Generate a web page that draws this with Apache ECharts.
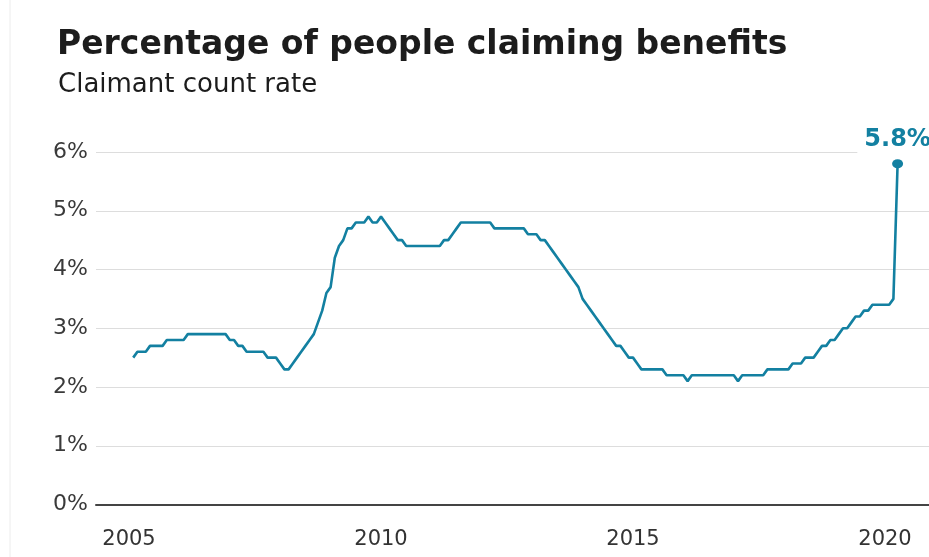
<!DOCTYPE html>
<html>
<head>
<meta charset="utf-8">
<script src="https://cdn.jsdelivr.net/npm/echarts@6/dist/echarts.min.js"></script>
<style>
  html, body { margin: 0; padding: 0; background: #fff; }
  #chart { width: 929px; height: 557px; }
</style>
</head>
<body>
<div id="chart"></div>
<script>
// ---- Data (monthly claimant count rate, %), first value = Feb 2005 ----
const titleText = 'Percentage of people claiming benefits';
const subtitleText = 'Claimant count rate';
const startYear = 2005;
const startMonth = 2; // February
const claimantRate = [
  // 2005 (Feb-Dec)
  2.5, 2.6, 2.6, 2.6, 2.7, 2.7, 2.7, 2.7, 2.8, 2.8, 2.8,
  // 2006
  2.8, 2.8, 2.9, 2.9, 2.9, 2.9, 2.9, 2.9, 2.9, 2.9, 2.9, 2.9,
  // 2007
  2.8, 2.8, 2.7, 2.7, 2.6, 2.6, 2.6, 2.6, 2.6, 2.5, 2.5, 2.5,
  // 2008
  2.4, 2.3, 2.3, 2.4, 2.5, 2.6, 2.7, 2.8, 2.9, 3.1, 3.3, 3.6,
  // 2009
  3.7, 4.2, 4.4, 4.5, 4.7, 4.7, 4.8, 4.8, 4.8, 4.9, 4.8, 4.8,
  // 2010
  4.9, 4.8, 4.7, 4.6, 4.5, 4.5, 4.4, 4.4, 4.4, 4.4, 4.4, 4.4,
  // 2011
  4.4, 4.4, 4.4, 4.5, 4.5, 4.6, 4.7, 4.8, 4.8, 4.8, 4.8, 4.8,
  // 2012
  4.8, 4.8, 4.8, 4.7, 4.7, 4.7, 4.7, 4.7, 4.7, 4.7, 4.7, 4.6,
  // 2013
  4.6, 4.6, 4.5, 4.5, 4.4, 4.3, 4.2, 4.1, 4.0, 3.9, 3.8, 3.7,
  // 2014
  3.5, 3.4, 3.3, 3.2, 3.1, 3.0, 2.9, 2.8, 2.7, 2.7, 2.6, 2.5,
  // 2015
  2.5, 2.4, 2.3, 2.3, 2.3, 2.3, 2.3, 2.3, 2.2, 2.2, 2.2, 2.2,
  // 2016
  2.2, 2.1, 2.2, 2.2, 2.2, 2.2, 2.2, 2.2, 2.2, 2.2, 2.2, 2.2,
  // 2017
  2.2, 2.1, 2.2, 2.2, 2.2, 2.2, 2.2, 2.2, 2.3, 2.3, 2.3, 2.3,
  // 2018
  2.3, 2.3, 2.4, 2.4, 2.4, 2.5, 2.5, 2.5, 2.6, 2.7, 2.7, 2.8,
  // 2019
  2.8, 2.9, 3.0, 3.0, 3.1, 3.2, 3.2, 3.3, 3.3, 3.4, 3.4, 3.4,
  // 2020 (Jan-Apr)
  3.4, 3.4, 3.5, 5.8
];
const yearTicks = [2005, 2010, 2015, 2020];
const percentTicks = [0, 1, 2, 3, 4, 5, 6];

// ---- Build (x = fractional year, y = rate) pairs ----
const seriesData = claimantRate.map((v, i) => {
  const m = startMonth - 1 + i;
  return [startYear + m / 12, v];
});
const lastPoint = seriesData[seriesData.length - 1];

const teal = '#1380A1';
const font = '"DejaVu Sans", "Liberation Sans", Arial, sans-serif';

const chart = echarts.init(document.getElementById('chart'), null, { renderer: 'canvas' });
chart.setOption({
  animation: false,
  backgroundColor: '#ffffff',
  title: [
    {
      text: titleText,
      left: 52, top: 24,
      textStyle: { fontFamily: font, fontSize: 33, fontWeight: 'bold', color: '#1c1c1c' }
    },
    {
      text: subtitleText,
      left: 53, top: 67,
      textStyle: { fontFamily: font, fontSize: 26, fontWeight: 'normal', color: '#1c1c1c' }
    }
  ],
  graphic: [
    { type: 'line', shape: { x1: 10, y1: 0, x2: 10, y2: 557 }, style: { stroke: '#ececec', lineWidth: 1 }, silent: true }
  ],
  grid: { left: 96, right: 0, top: 152, bottom: 52.5 },
  xAxis: {
    type: 'value',
    min: 2004.345,
    max: 2020.873,
    axisLine: { show: true, onZero: false, lineStyle: { color: '#444444', width: 2 } },
    axisTick: { show: false },
    splitLine: { show: false },
    axisLabel: {
      customValues: yearTicks,
      formatter: v => String(v),
      fontFamily: font, fontSize: 21, color: '#333333', margin: 25
    }
  },
  yAxis: {
    type: 'value',
    min: percentTicks[0],
    max: percentTicks[percentTicks.length - 1],
    interval: 1,
    axisLine: { show: false },
    axisTick: { show: false },
    splitLine: { show: true, lineStyle: { color: '#dddddd', width: 1.2 } },
    axisLabel: {
      formatter: '{value}%',
      fontFamily: font, fontSize: 22, color: '#3a3a3a', margin: 8
    }
  },
  series: [
    {
      type: 'line',
      data: seriesData,
      showSymbol: false,
      symbol: 'none',
      lineStyle: { color: teal, width: 2.6 },
      z: 3
    },
    {
      type: 'scatter',
      data: [lastPoint],
      symbol: 'circle',
      symbolSize: [11, 9],
      itemStyle: { color: teal, opacity: 1 },
      z: 4,
      label: {
        show: true,
        position: 'top',
        distance: 5,
        offset: [0, 0],
        formatter: p => p.value[1] + '%',
        fontFamily: font, fontSize: 24, fontWeight: 'bold', color: teal, opacity: 1,
        backgroundColor: '#ffffff',
        padding: [3, 7, 2, 7]
      }
    }
  ]
});
</script>
</body>
</html>
